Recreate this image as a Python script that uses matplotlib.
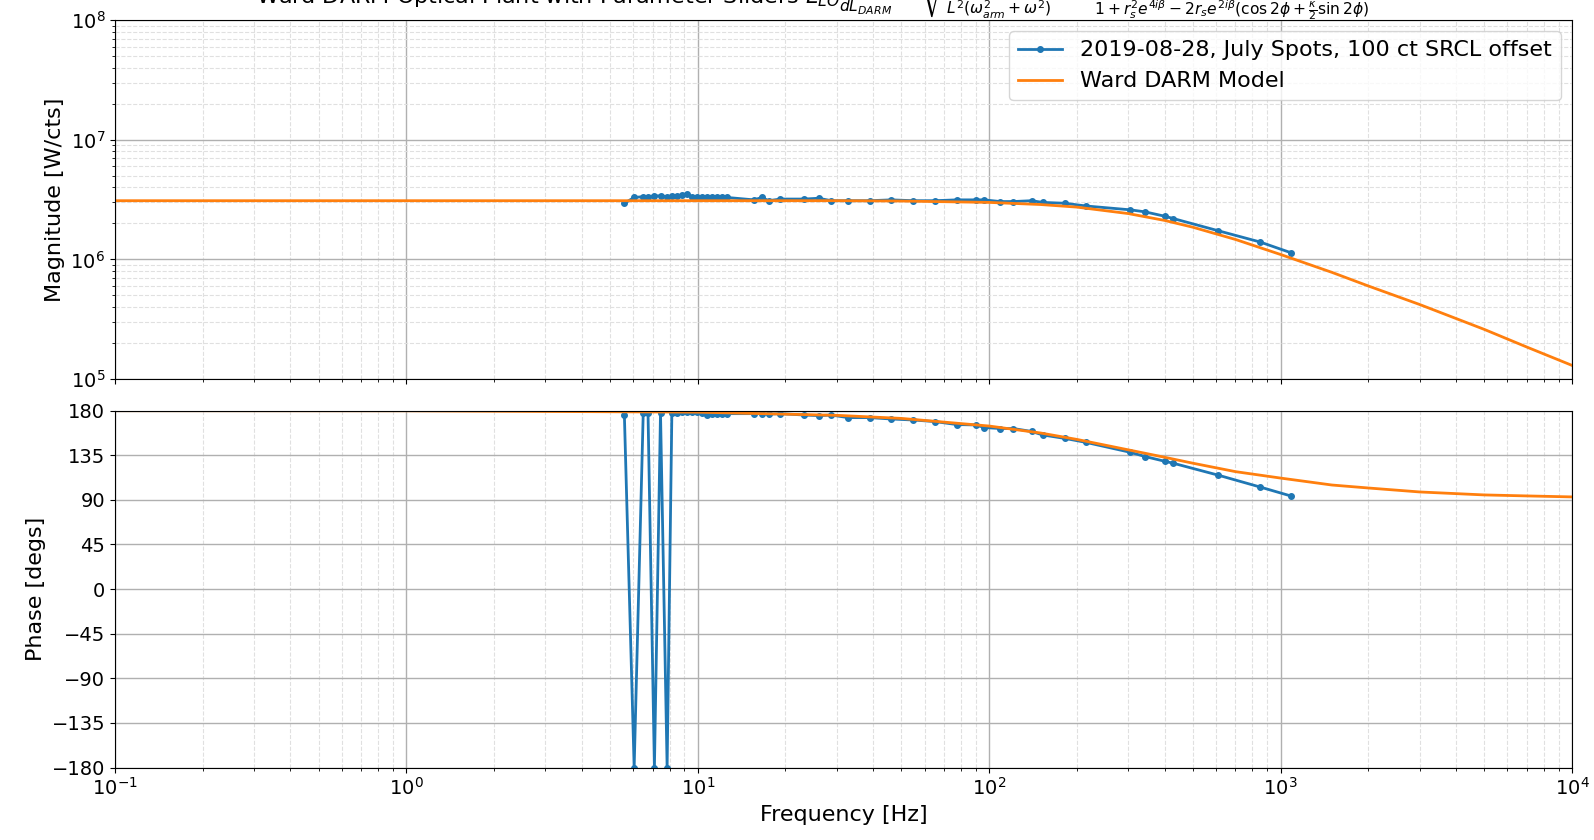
import numpy as np
import matplotlib
matplotlib.use('Agg')
import matplotlib.pyplot as plt

freq = [5.6, 6.05, 6.5, 6.75, 7.1, 7.45, 7.85, 8.15, 8.5, 8.85, 9.2, 9.55, 9.95,
        10.35, 10.8, 11.2, 11.65, 12.1, 12.6, 15.6, 16.6, 17.5, 19.2, 23.2, 26.0,
        28.7, 32.8, 38.9, 46.2, 54.9, 65.1, 77.4, 90.0, 96.2, 109, 121, 140, 152.6,
        182, 215, 305, 343, 400, 428, 610, 850, 1083]
mag = [2.95e6, 3.3e6, 3.35e6, 3.35e6, 3.4e6, 3.4e6, 3.35e6, 3.4e6, 3.4e6, 3.45e6,
       3.5e6, 3.35e6, 3.3e6, 3.35e6, 3.3e6, 3.3e6, 3.3e6, 3.3e6, 3.3e6, 3.15e6,
       3.3e6, 3.1e6, 3.2e6, 3.2e6, 3.25e6, 3.1e6, 3.1e6, 3.1e6, 3.15e6, 3.1e6,
       3.1e6, 3.15e6, 3.15e6, 3.15e6, 3.05e6, 3.05e6, 3.1e6, 3.0e6, 2.95e6, 2.8e6,
       2.6e6, 2.5e6, 2.3e6, 2.2e6, 1.74e6, 1.4e6, 1.14e6]
phase = [175.5, -180, 178, 178, -180, 178, -180, 178, 178, 178.5, 178.5, 178.5, 178.5,
         178, 176, 177, 176.5, 177, 177, 177, 177, 176.5, 177, 175.6, 175,
         175.6, 173, 173, 171.6, 170.6, 169, 166, 165.6, 163, 162, 162, 159, 155.5,
         152, 148, 138, 133.7, 129, 127, 115, 103, 94]

# model curve
model_freq = [0.1, 1, 10, 30, 50, 100, 150, 200, 300, 400, 500, 700, 1000, 1500,
              2000, 3000, 5000, 7000, 10000]
model_mag = [3.1e6, 3.1e6, 3.1e6, 3.1e6, 3.08e6, 3.0e6, 2.88e6, 2.74e6, 2.42e6,
             2.12e6, 1.86e6, 1.47e6, 1.1e6, 7.8e5, 6.0e5, 4.2e5, 2.6e5, 1.85e5, 1.3e5]
model_phase = [180, 179.9, 178.5, 175.3, 172.2, 164.5, 157.5, 151, 140.5, 133,
               127, 118.5, 112, 105, 102, 98, 95, 94, 93]

plt.rcParams['font.size'] = 14

fig = plt.figure(figsize=(15.94, 8.4), dpi=100)
ax1 = fig.add_axes([0.0721, 0.5488, 0.9141, 0.4270])
ax2 = fig.add_axes([0.0721, 0.0863, 0.9141, 0.4248], sharex=ax1)

ax1.loglog(freq, mag, marker='.', markersize=8, lw=2, color='C0',
           label='2019-08-28, July Spots, 100 ct SRCL offset')
ax1.loglog(model_freq, model_mag, lw=2, color='C1', label='Ward DARM Model')
ax2.semilogx(freq, phase, marker='.', markersize=8, lw=2, color='C0')
ax2.semilogx(model_freq, model_phase, lw=2, color='C1')

ax1.set_xlim(0.1, 1e4)
ax1.set_ylim(1e5, 1e8)
ax2.set_ylim(-180, 180)
ax2.set_yticks(np.arange(-180, 181, 45))
plt.setp(ax1.get_xticklabels(), visible=False)

for ax in (ax1, ax2):
    ax.grid(which='major', color='#b0b0b0', lw=1)
    ax.grid(which='minor', color='#e0e0e0', ls='--', lw=0.8)

ax1.set_ylabel('Magnitude [W/cts]', fontsize=16)
ax2.set_ylabel('Phase [degs]', fontsize=16)
ax2.set_xlabel('Frequency [Hz]', fontsize=16)
ax1.legend(loc='upper right', fontsize=16)

# title sits partly above the figure edge, as in the original
title = (r'Ward DARM Optical Plant with Parameter Sliders '
         r'$L_{LO}\frac{dP}{dL_{DARM}} = \sqrt{\frac{4\omega_{arm}^2 P_{arm}}{L^2(\omega_{arm}^2+\omega^2)}}'
         r'\quad\frac{t_s e^{i\beta}\,(1 + r_s e^{2i\beta})\,(\sin\phi + \kappa\cos\phi) \cdot \sqrt{1+\kappa^2}}'
         r'{1+r_s^2e^{4i\beta}-2r_se^{2i\beta}(\cos2\phi+\frac{\kappa}{2}\sin2\phi)}$')
fig.text(0.515, 1 - 22 / 840, title, ha='center', va='bottom', fontsize=16)

fig.savefig('out.png', dpi=100)
